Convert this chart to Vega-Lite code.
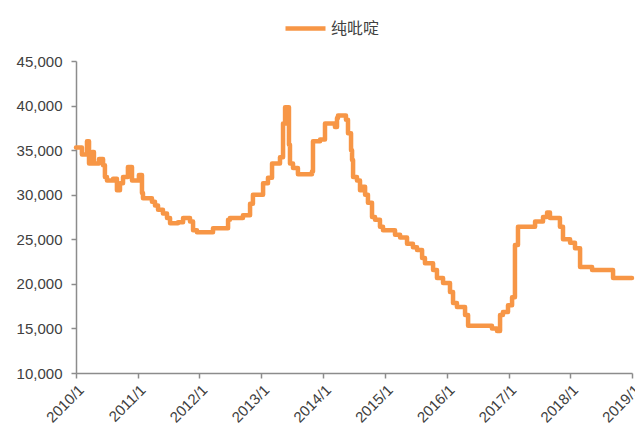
{
  "$schema": "https://vega.github.io/schema/vega-lite/v6.json",
  "width": 556,
  "height": 312,
  "autosize": {"type": "none"},
  "padding": {"left": 76, "top": 61, "right": 3, "bottom": 57},
  "background": "white",
  "config": {
    "view": {"stroke": null},
    "font": "Liberation Sans"
  },
  "data": {
    "values": [
      {"date": "2010-01-01", "price": 35300},
      {"date": "2010-02-05", "price": 34500},
      {"date": "2010-03-07", "price": 36000},
      {"date": "2010-03-19", "price": 33500},
      {"date": "2010-04-06", "price": 34800},
      {"date": "2010-04-17", "price": 33500},
      {"date": "2010-05-17", "price": 34000},
      {"date": "2010-06-10", "price": 33300},
      {"date": "2010-06-21", "price": 32000},
      {"date": "2010-07-03", "price": 31600},
      {"date": "2010-08-08", "price": 31800},
      {"date": "2010-08-31", "price": 30500},
      {"date": "2010-09-18", "price": 31300},
      {"date": "2010-10-06", "price": 32000},
      {"date": "2010-11-04", "price": 33100},
      {"date": "2010-11-28", "price": 31600},
      {"date": "2011-01-08", "price": 32200},
      {"date": "2011-01-26", "price": 30200},
      {"date": "2011-02-01", "price": 29600},
      {"date": "2011-03-26", "price": 29200},
      {"date": "2011-04-13", "price": 28800},
      {"date": "2011-05-01", "price": 28300},
      {"date": "2011-05-30", "price": 27900},
      {"date": "2011-06-23", "price": 27400},
      {"date": "2011-07-11", "price": 26800},
      {"date": "2011-08-27", "price": 26900},
      {"date": "2011-09-26", "price": 27400},
      {"date": "2011-11-06", "price": 27000},
      {"date": "2011-11-24", "price": 26000},
      {"date": "2011-12-17", "price": 25800},
      {"date": "2012-03-21", "price": 26250},
      {"date": "2012-06-18", "price": 27200},
      {"date": "2012-06-29", "price": 27400},
      {"date": "2012-09-14", "price": 27700},
      {"date": "2012-10-26", "price": 29000},
      {"date": "2012-11-12", "price": 30000},
      {"date": "2013-01-11", "price": 31300},
      {"date": "2013-02-09", "price": 31900},
      {"date": "2013-03-05", "price": 33500},
      {"date": "2013-04-21", "price": 34200},
      {"date": "2013-05-09", "price": 38000},
      {"date": "2013-05-21", "price": 39800},
      {"date": "2013-06-13", "price": 35600},
      {"date": "2013-06-19", "price": 33500},
      {"date": "2013-07-07", "price": 33000},
      {"date": "2013-08-05", "price": 32300},
      {"date": "2013-10-27", "price": 32600},
      {"date": "2013-11-02", "price": 36000},
      {"date": "2013-12-14", "price": 36200},
      {"date": "2014-01-12", "price": 38000},
      {"date": "2014-03-12", "price": 37600},
      {"date": "2014-03-24", "price": 38600},
      {"date": "2014-03-30", "price": 38900},
      {"date": "2014-05-16", "price": 38400},
      {"date": "2014-05-28", "price": 36900},
      {"date": "2014-06-15", "price": 35000},
      {"date": "2014-06-21", "price": 33900},
      {"date": "2014-06-27", "price": 32000},
      {"date": "2014-07-20", "price": 31600},
      {"date": "2014-08-07", "price": 30500},
      {"date": "2014-08-19", "price": 30900},
      {"date": "2014-09-06", "price": 30000},
      {"date": "2014-09-23", "price": 29100},
      {"date": "2014-10-17", "price": 27500},
      {"date": "2014-11-04", "price": 27200},
      {"date": "2014-12-03", "price": 26400},
      {"date": "2014-12-21", "price": 26000},
      {"date": "2015-03-02", "price": 25500},
      {"date": "2015-04-01", "price": 25200},
      {"date": "2015-05-12", "price": 24500},
      {"date": "2015-06-16", "price": 24100},
      {"date": "2015-07-10", "price": 23800},
      {"date": "2015-08-09", "price": 22900},
      {"date": "2015-08-26", "price": 22300},
      {"date": "2015-10-13", "price": 21550},
      {"date": "2015-11-05", "price": 20650},
      {"date": "2015-12-11", "price": 20100},
      {"date": "2016-01-21", "price": 19100},
      {"date": "2016-02-08", "price": 17850},
      {"date": "2016-03-02", "price": 17400},
      {"date": "2016-04-19", "price": 16500},
      {"date": "2016-05-07", "price": 15300},
      {"date": "2016-09-25", "price": 15000},
      {"date": "2016-10-25", "price": 14700},
      {"date": "2016-11-12", "price": 16500},
      {"date": "2016-11-29", "price": 16850},
      {"date": "2016-12-29", "price": 17600},
      {"date": "2017-01-22", "price": 18500},
      {"date": "2017-02-08", "price": 24350},
      {"date": "2017-02-26", "price": 26400},
      {"date": "2017-06-07", "price": 27000},
      {"date": "2017-07-24", "price": 27500},
      {"date": "2017-08-17", "price": 28000},
      {"date": "2017-09-03", "price": 27400},
      {"date": "2017-11-01", "price": 26400},
      {"date": "2017-11-19", "price": 25000},
      {"date": "2017-12-31", "price": 24600},
      {"date": "2018-01-29", "price": 24000},
      {"date": "2018-02-28", "price": 21900},
      {"date": "2018-05-10", "price": 21550},
      {"date": "2018-09-11", "price": 20650},
      {"date": "2019-01-01", "price": 20650}
    ]
  },
  "mark": {"type": "line", "interpolate": "step-after", "strokeWidth": 4.5, "strokeJoin": "round", "strokeCap": "round"},
  "encoding": {
    "x": {
      "field": "date",
      "type": "temporal",
      "scale": {"domain": ["2010-01-01T00:00:00", "2019-01-01T00:00:00"]},
      "axis": {
        "title": null,
        "values": ["2010-01-01T00:00:00", "2011-01-01T00:00:00", "2012-01-01T00:00:00", "2013-01-01T00:00:00", "2014-01-01T00:00:00", "2015-01-01T00:00:00", "2016-01-01T00:00:00", "2017-01-01T00:00:00", "2018-01-01T00:00:00", "2019-01-01T00:00:00"],
        "format": "%Y/%-m",
        "labelAngle": -45,
        "labelFontSize": 15,
        "labelColor": "#404040",
        "domainColor": "#8c8c8c",
        "domainWidth": 1.5,
        "tickColor": "#8c8c8c",
        "tickWidth": 1.5,
        "tickSize": 5,
        "grid": false,
        "labelPadding": 4,
        "labelBound": false,
        "labelOverlap": false
      }
    },
    "y": {
      "field": "price",
      "type": "quantitative",
      "scale": {"domain": [10000, 45000]},
      "axis": {
        "title": null,
        "values": [10000, 15000, 20000, 25000, 30000, 35000, 40000, 45000],
        "format": ",d",
        "labelFontSize": 15,
        "labelColor": "#404040",
        "domainColor": "#8c8c8c",
        "domainWidth": 1.5,
        "tickColor": "#8c8c8c",
        "tickWidth": 1.5,
        "tickSize": 5,
        "grid": false,
        "labelPadding": 9
      }
    },
    "color": {
      "datum": "纯吡啶",
      "scale": {"range": ["#F79646"]},
      "legend": {
        "title": null,
        "orient": "none",
        "legendX": 207,
        "legendY": -55,
        "symbolType": "stroke",
        "symbolSize": 1600,
        "symbolStrokeWidth": 4.5,
        "labelFont": "Noto Sans CJK SC",
        "labelFontSize": 16,
        "labelColor": "#404040",
        "labelOffset": 3
      }
    }
  }
}
